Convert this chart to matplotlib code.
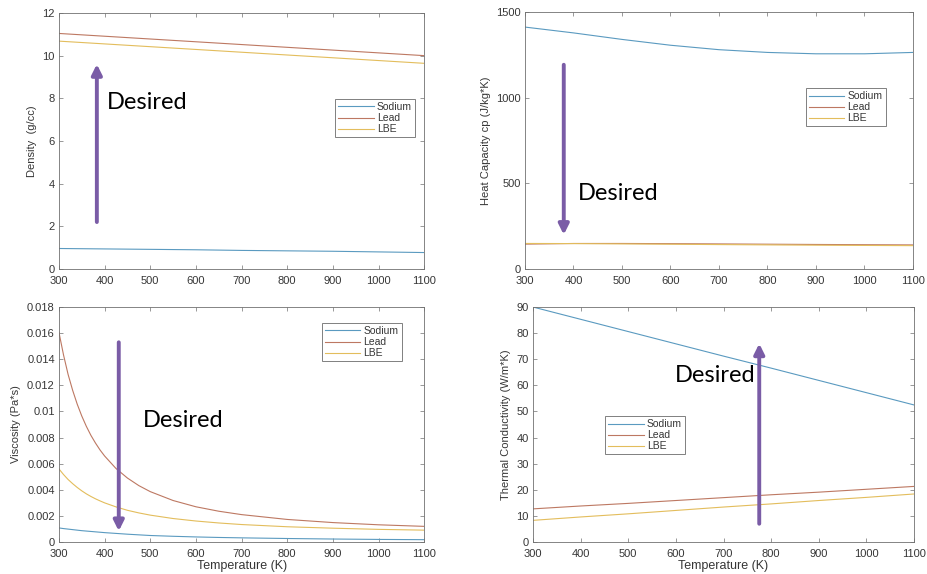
import matplotlib
matplotlib.use("Agg")
import matplotlib.pyplot as plt
from matplotlib.ticker import FixedLocator

plt.rcParams['font.family'] = ['Liberation Sans', 'DejaVu Sans']

# ---------------- data ----------------
series_names = ["Sodium", "Lead", "LBE"]

T_lin = [300, 400, 500, 600, 700, 800, 900, 1000, 1100]

density_sodium = [0.96, 0.94, 0.92, 0.90, 0.87, 0.85, 0.83, 0.80, 0.77]
density_lead = [11.04, 10.91, 10.78, 10.65, 10.52, 10.39, 10.26, 10.13, 10.00]
density_lbe = [10.68, 10.55, 10.42, 10.29, 10.16, 10.03, 9.90, 9.77, 9.64]

cp_sodium = [1412, 1378, 1340, 1306, 1280, 1264, 1256, 1256, 1264]
cp_lead = [145.0, 148.8, 148.9, 147.8, 146.3, 144.7, 143.1, 141.7, 140.5]
cp_lbe = [149.0, 148.2, 146.4, 144.4, 142.4, 140.6, 138.9, 137.4, 136.2]

T_visc = [300, 310, 320, 330, 340, 350, 360, 370, 380, 390, 400, 425, 450,
          475, 500, 550, 600, 650, 700, 800, 900, 1000, 1100]
visc_sodium = [0.00108, 0.00103, 0.00099, 0.00095, 0.00091, 0.00087, 0.00084,
               0.00081, 0.00078, 0.00075, 0.00072, 0.00066, 0.00060, 0.00055,
               0.00050, 0.00044, 0.00039, 0.00035, 0.00032, 0.00027, 0.00023,
               0.00020, 0.00018]
visc_lead = [0.01606, 0.01433, 0.01284, 0.01162, 0.01056, 0.00965, 0.00886,
             0.00817, 0.00758, 0.00705, 0.00659, 0.00563, 0.00490, 0.00432,
             0.00386, 0.00318, 0.00270, 0.00236, 0.00210, 0.00173, 0.00149,
             0.00132, 0.00120]
visc_lbe = [0.00560, 0.00517, 0.00479, 0.00447, 0.00418, 0.00392, 0.00369,
            0.00349, 0.00331, 0.00315, 0.00300, 0.00269, 0.00243, 0.00223,
            0.00206, 0.00180, 0.00161, 0.00146, 0.00134, 0.00117, 0.00106,
            0.00097, 0.00091]

k_sodium = [90.0, 85.3, 80.6, 75.9, 71.2, 66.6, 61.9, 57.2, 52.5]
k_lead = [12.7, 13.8, 14.8, 15.9, 17.0, 18.1, 19.1, 20.2, 21.3]
k_lbe = [8.3, 9.6, 10.8, 12.1, 13.4, 14.6, 15.9, 17.1, 18.4]

x_ticks = [300, 400, 500, 600, 700, 800, 900, 1000, 1100]
density_ticks = [0, 2, 4, 6, 8, 10, 12]
cp_ticks = [0, 500, 1000, 1500]
visc_ticks = [0, 0.002, 0.004, 0.006, 0.008, 0.01, 0.012, 0.014, 0.016, 0.018]
visc_ticklabels = ["0", "0.002", "0.004", "0.006", "0.008", "0.01", "0.012",
                   "0.014", "0.016", "0.018"]
k_ticks = [0, 10, 20, 30, 40, 50, 60, 70, 80, 90]

# ---------------- style ----------------
colors = ["#5a9ac0", "#bd7862", "#e3bd5c"]
arrow_color = "#7a5ca6"
spine_color = "#707070"
text_color = "#363636"

fig = plt.figure(figsize=(9.27, 5.74), dpi=100)

axes_rects = [
    [0.0636, 0.5314, 0.394, 0.446],
    [0.5663, 0.5314, 0.4186, 0.4477],
    [0.0636, 0.0557, 0.394, 0.4094],
    [0.575, 0.0557, 0.411, 0.4094],
]

panels = [
    dict(x=T_lin, ys=[density_sodium, density_lead, density_lbe],
         ylim=(0, 12), yticks=density_ticks, yticklabels=None,
         ylabel="Density  (g/cc)", xlabel=None,
         leg=(0.756, 0.664),
         arrow=((383, 2.2), (383, 9.6)), text=(405, 7.8)),
    dict(x=T_lin, ys=[cp_sodium, cp_lead, cp_lbe],
         ylim=(0, 1500), yticks=cp_ticks, yticklabels=None,
         ylabel="Heat Capacity cp (J/kg*K)", xlabel=None,
         leg=(0.724, 0.704),
         arrow=((380, 1192), (380, 200)), text=(410, 443)),
    dict(x=T_visc, ys=[visc_sodium, visc_lead, visc_lbe],
         ylim=(0, 0.018), yticks=visc_ticks, yticklabels=visc_ticklabels,
         ylabel="Viscosity (Pa*s)", xlabel="Temperature (K)",
         leg=(0.72, 0.932),
         arrow=((431, 0.0153), (431, 0.00084)), text=(483, 0.0093)),
    dict(x=T_lin, ys=[k_sodium, k_lead, k_lbe],
         ylim=(0, 90), yticks=k_ticks, yticklabels=None,
         ylabel="Thermal Conductivity (W/m*K)", xlabel="Temperature (K)",
         leg=(0.189, 0.536),
         arrow=((775, 7.0), (775, 76.0)), text=(597, 63.6)),
]

for rect, p in zip(axes_rects, panels):
    ax = fig.add_axes(rect)
    for y, name, c in zip(p["ys"], series_names, colors):
        ax.plot(p["x"], y, color=c, lw=0.8, label=name)
    ax.set_xlim(300, 1100)
    ax.set_ylim(*p["ylim"])
    ax.xaxis.set_major_locator(FixedLocator(x_ticks))
    ax.set_yticks(p["yticks"])
    if p["yticklabels"] is not None:
        ax.set_yticklabels(p["yticklabels"])
    ax.tick_params(direction="in", length=3, width=0.5, top=True, right=True,
                   labelsize=8, colors=spine_color, labelcolor=text_color)
    ax.tick_params(axis="x", pad=5)
    ax.tick_params(axis="y", pad=3)
    for s in ax.spines.values():
        s.set_color(spine_color)
        s.set_linewidth(0.6)
    ax.set_ylabel(p["ylabel"], fontsize=8, color=text_color, labelpad=4)
    if p["xlabel"]:
        ax.set_xlabel(p["xlabel"], fontsize=9, color=text_color, labelpad=1)
    leg = ax.legend(loc="upper left", bbox_to_anchor=p["leg"],
                    borderaxespad=0, fontsize=7.5, handlelength=3.4,
                    handletextpad=0.3, labelspacing=0.1, borderpad=0.3,
                    fancybox=False, framealpha=1, edgecolor="#808080")
    leg.get_frame().set_linewidth(0.7)
    for t in leg.get_texts():
        t.set_color(text_color)
    (x0, y0), (x1, y1) = p["arrow"]
    ax.annotate("", xy=(x1, y1), xytext=(x0, y0),
                arrowprops=dict(arrowstyle="-|>,head_width=0.3,head_length=0.6",
                                lw=2.8, color=arrow_color, shrinkA=0, shrinkB=0))
    ax.text(p["text"][0], p["text"][1], "Desired", fontsize=17,
            family=["Lato", "DejaVu Sans"], color="black",
            ha="left", va="center")

fig.savefig("out.png", dpi=100)
